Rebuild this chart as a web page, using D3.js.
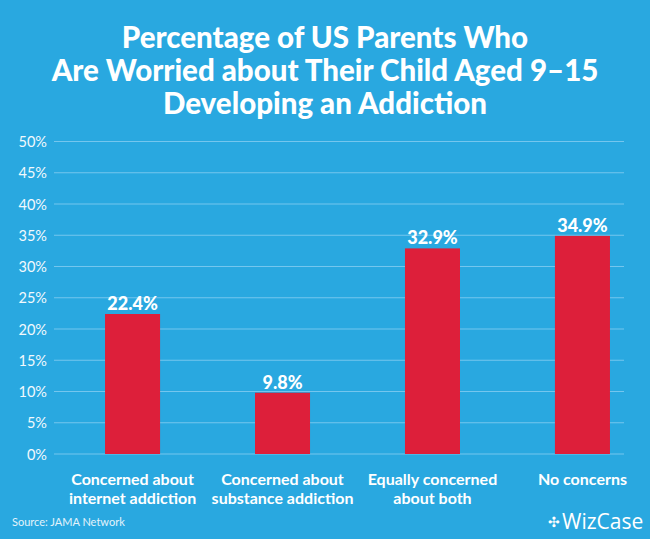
<!DOCTYPE html>
<html><head><meta charset="utf-8">
<script src="https://cdn.jsdelivr.net/npm/d3@7"></script>
<style>html,body{margin:0;padding:0;background:#29a8e0;}svg{display:block;}</style>
</head><body>
<script>
const categories = [["Concerned about","internet addiction"],["Concerned about","substance addiction"],["Equally concerned","about both"],["No concerns"]];
const values = [22.4, 9.8, 32.9, 34.9];
const yTicks = [0,5,10,15,20,25,30,35,40,45,50];
const titleLines = ["Percentage of US Parents Who","Are Worried about Their Child Aged 9–15","Developing an Addiction"];

const W=650,H=539;
const svg=d3.select("body").append("svg").attr("width",W).attr("height",H);
svg.append("rect").attr("width",W).attr("height",H).attr("fill","#29a8e0");

const x=d3.scaleBand().domain(d3.range(values.length)).range([56,659]).paddingInner(0.633).paddingOuter(0.327);
const y=d3.scaleLinear().domain([0,50]).range([454,141.5]);

// gridlines
svg.append("g").selectAll("line").data(yTicks).join("line")
 .attr("x1",54).attr("x2",624).attr("y1",d=>y(d)).attr("y2",d=>y(d))
 .attr("stroke","#74c6ee").attr("stroke-width",1.2);

// y axis labels
const yAxis=d3.axisLeft(y).tickValues(yTicks).tickFormat(d=>d+"%").tickSize(0).tickPadding(0);
const ga=svg.append("g").attr("transform","translate(47,0)").call(yAxis);
ga.select(".domain").remove();
ga.selectAll("text").attr("fill","#f2f9fd").attr("font-family","Lato, sans-serif").attr("font-size",14.5).attr("dy","0.35em");

// bars
svg.append("g").selectAll("rect").data(values).join("rect")
 .attr("x",(d,i)=>x(i)).attr("width",x.bandwidth())
 .attr("y",d=>y(d)).attr("height",d=>y(0)-y(d)).attr("fill","#dd1f3a");

// value labels
svg.append("g").selectAll("text").data(values).join("text")
 .attr("x",(d,i)=>x(i)+x.bandwidth()/2).attr("y",d=>y(d)-4)
 .attr("text-anchor","middle").attr("fill","#fff")
 .attr("font-family","Lato, sans-serif").attr("font-weight","900").attr("font-size",18)
 .text(d=>d.toFixed(1)+"%");

// category labels
const cg=svg.append("g").selectAll("text").data(categories).join("text")
 .attr("x",(d,i)=>x(i)+x.bandwidth()/2).attr("y",485)
 .attr("text-anchor","middle").attr("fill","#fff")
 .attr("font-family","Lato, sans-serif").attr("font-weight","bold").attr("font-size",16);
cg.selectAll("tspan").data(d=>d).join("tspan")
 .attr("x",function(){return this.parentNode.getAttribute("x");})
 .attr("dy",(d,i)=>i?19:0).text(d=>d);

// title
svg.append("g").selectAll("text").data(titleLines).join("text")
 .attr("x",325).attr("y",(d,i)=>48+i*33).attr("text-anchor","middle").attr("fill","#fff")
 .attr("font-family","Lato, sans-serif").attr("font-weight","900").attr("font-size",29.5).text(d=>d);

// source
svg.append("text").attr("x",12).attr("y",526).attr("fill","#e3f3fb")
 .attr("font-family","Lato, sans-serif").attr("font-size",11).text("Source: JAMA Network");

// logo
svg.append("text").attr("x",548).attr("y",527).attr("fill","#fff")
 .attr("font-family","Lato, sans-serif").attr("font-size",14).text("✣");
svg.append("text").attr("x",562).attr("y",529).attr("fill","#fff")
 .attr("font-family","Open Sans, sans-serif").attr("font-size",21).text("WizCase");
</script>
</body></html>
